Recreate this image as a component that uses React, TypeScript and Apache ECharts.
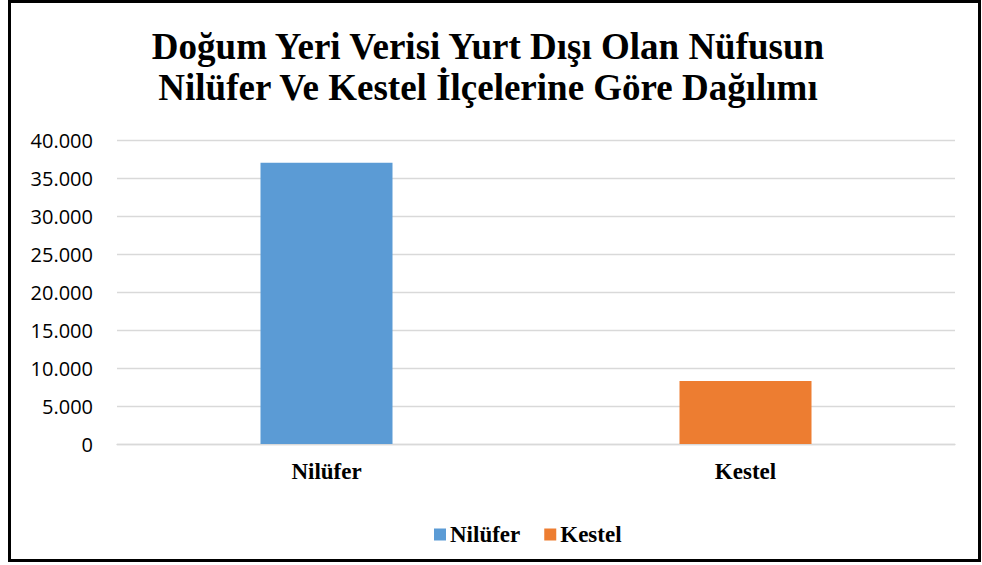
import React, { useEffect, useRef } from "react";
import * as echarts from "echarts";

const titleLines = [
  "Doğum Yeri Verisi Yurt Dışı Olan Nüfusun",
  "Nilüfer Ve Kestel İlçelerine Göre Dağılımı",
];
const categories = ["Nilüfer", "Kestel"];
const seriesNames = ["Nilüfer", "Kestel"];
const niluferValues = [37000, "-"];
const kestelValues = ["-", 8300];
const colors = ["#5B9BD5", "#ED7D31"];

export default function App() {
  const ref = useRef<HTMLDivElement>(null);
  useEffect(() => {
    if (!ref.current) return;
    const chart = echarts.init(ref.current, null, { renderer: "svg" });
    const serif = "Liberation Serif";
    chart.setOption({
      animation: false,
      backgroundColor: "#ffffff",
      title: {
        text: titleLines.join("\n"),
        left: 483,
        textAlign: "center",
        top: 21,
        textStyle: {
          fontFamily: serif,
          fontWeight: "bold",
          fontSize: 37,
          lineHeight: 41,
          color: "#000",
        },
      },
      legend: {
        left: 429,
        top: 518,
        itemWidth: 12,
        itemHeight: 12,
        itemGap: 24,
        icon: "rect",
        textStyle: {
          fontFamily: serif,
          fontWeight: "bold",
          fontSize: 23,
          color: "#000",
          padding: [0, 0, 0, -1],
        },
        data: seriesNames,
      },
      grid: { left: 117, right: 27, top: 140, bottom: 121, containLabel: false },
      xAxis: {
        type: "category",
        data: categories,
        axisLine: { lineStyle: { color: "#d9d9d9", width: 1.3 } },
        axisTick: { show: false },
        axisLabel: {
          margin: 16,
          fontFamily: serif,
          fontWeight: "bold",
          fontSize: 23,
          color: "#000",
        },
      },
      yAxis: {
        type: "value",
        min: 0,
        max: 40000,
        interval: 5000,
        axisLine: { show: false },
        axisTick: { show: false },
        splitLine: { lineStyle: { color: "#d9d9d9", width: 1.3 } },
        axisLabel: {
          margin: 24,
          fontFamily: "Open Sans",
          fontSize: 20,
          color: "#000",
          formatter: (v: number) =>
            v === 0 ? "0" : v.toLocaleString("de-DE"),
        },
      },
      series: [
        {
          name: seriesNames[0],
          type: "bar",
          stack: "s",
          barWidth: 132,
          data: niluferValues,
          itemStyle: { color: colors[0] },
        },
        {
          name: seriesNames[1],
          type: "bar",
          stack: "s",
          barWidth: 132,
          data: kestelValues,
          itemStyle: { color: colors[1] },
        },
      ],
      graphic: [
        {
          type: "rect",
          shape: { x: 9.5, y: 1.5, width: 970, height: 559 },
          style: { fill: "none", stroke: "#000", lineWidth: 3 },
          silent: true,
          z: 100,
        },
      ],
    });
    return () => chart.dispose();
  }, []);
  return (
    <div
      ref={ref}
      style={{ position: "absolute", left: 0, top: 0, width: 982, height: 565 }}
    />
  );
}
